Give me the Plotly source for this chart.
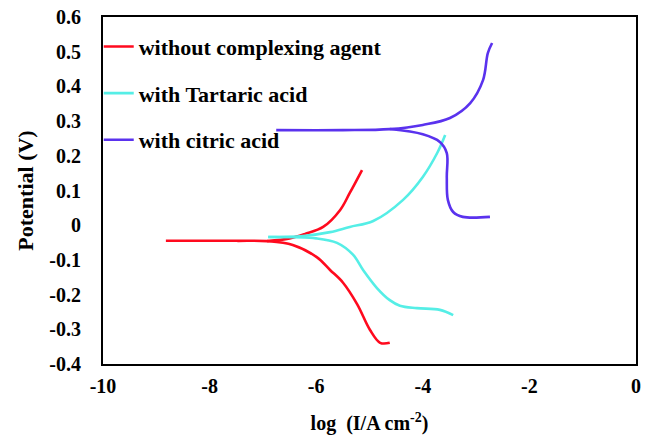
import plotly.graph_objects as go

# without complexing agent (red)
red_x = [-8.82, -7.5, -6.92, -6.44, -5.99, -5.74, -5.50, -5.23, -4.99, -4.80, -4.62]
red_y = [-0.045, -0.045, -0.046, -0.057, -0.092, -0.129, -0.165, -0.228, -0.302, -0.339, -0.339]
red_up_x = [-6.92, -6.5, -6.21, -5.87, -5.55, -5.37, -5.14]
red_up_y = [-0.046, -0.038, -0.025, -0.005, 0.044, 0.093, 0.159]

# with Tartaric acid (cyan)
cy_x = [-6.90, -6.25, -5.74, -5.37, -4.93, -4.37, -4.00, -3.73, -3.58]
cy_y = [-0.034, -0.031, -0.020, -0.005, 0.012, 0.073, 0.139, 0.208, 0.260]
cy_dn_x = [-6.90, -6.0, -5.61, -5.31, -5.12, -4.86, -4.62, -4.43, -4.11, -3.68, -3.43]
cy_dn_y = [-0.034, -0.038, -0.051, -0.085, -0.129, -0.181, -0.216, -0.232, -0.239, -0.244, -0.259]

# with citric acid (blue)
bl_x = [-6.75, -5.5, -4.62, -4.00, -3.49, -3.11, -2.87, -2.78, -2.70]
bl_y = [0.274, 0.274, 0.277, 0.289, 0.309, 0.352, 0.418, 0.496, 0.525]
bl_dn_x = [-4.62, -4.00, -3.68, -3.55, -3.55, -3.53, -3.43, -3.25, -2.74]
bl_dn_y = [0.277, 0.262, 0.240, 0.208, 0.139, 0.073, 0.038, 0.024, 0.024]

x_ticks = [-10, -8, -6, -4, -2, 0]
x_tick_text = ["-10", "-8", "-6", "-4", "-2", "0"]
y_ticks = [0.6, 0.5, 0.4, 0.3, 0.2, 0.1, 0, -0.1, -0.2, -0.3, -0.4]
y_tick_text = ["0.6", "0.5", "0.4", "0.3", "0.2", "0.1", "0", "-0.1", "-0.2", "-0.3", "-0.4"]

RED = "#FF0A1E"
CYAN = "#55EEE6"
BLUE = "#5A32EE"

FAMILY = "Liberation Serif"

fig = go.Figure()
def add(x, y, color, name, show, group):
    fig.add_trace(go.Scatter(x=x, y=y, mode="lines", name="<b>" + name + "</b>",
                             showlegend=show, legendgroup=group,
                             line=dict(color=color, width=2.6, shape="spline", smoothing=1.0)))

add(red_x, red_y, RED, "without complexing agent", True, "a")
add(red_up_x, red_up_y, RED, "without complexing agent", False, "a")
add(cy_x, cy_y, CYAN, "with Tartaric acid", True, "b")
add(cy_dn_x, cy_dn_y, CYAN, "with Tartaric acid", False, "b")
add(bl_x, bl_y, BLUE, "with citric acid", True, "c")
add(bl_dn_x, bl_dn_y, BLUE, "with citric acid", False, "c")

tf = dict(family=FAMILY, size=20, color="black")
lf = dict(family=FAMILY, size=22, color="black")

fig.update_layout(
    width=653, height=441,
    margin=dict(l=103, r=17, t=17, b=77),
    paper_bgcolor="white", plot_bgcolor="white",
    font=tf,
    legend=dict(x=-0.008, y=0.975, xanchor="left", yanchor="top",
                bgcolor="rgba(0,0,0,0)", font=lf,
                tracegroupgap=15, itemwidth=30, traceorder="grouped"),
    xaxis=dict(range=[-10, 0], tickvals=x_ticks,
               ticktext=["<b>" + t + "</b>" for t in x_tick_text],
               showgrid=False, zeroline=False, showline=True, mirror=True,
               linecolor="black", linewidth=2, ticks="", ticklabelstandoff=3,
               tickfont=tf, automargin=False,
               title=dict(text="<b>log  (I/A cm<sup>-2</sup>)</b>", standoff=20, font=tf)),
    yaxis=dict(range=[-0.4, 0.6], tickvals=y_ticks,
               ticktext=["<b>" + t + "</b>" for t in y_tick_text],
               showgrid=False, zeroline=False, showline=True, mirror=True,
               linecolor="black", linewidth=2, ticks="", ticklabelstandoff=16,
               tickfont=tf, automargin=False,
               title=dict(text="<b>Potential (V)</b>", standoff=10,
                          font=dict(family=FAMILY, size=22, color="black"))),
)

fig.write_html("out.html")
